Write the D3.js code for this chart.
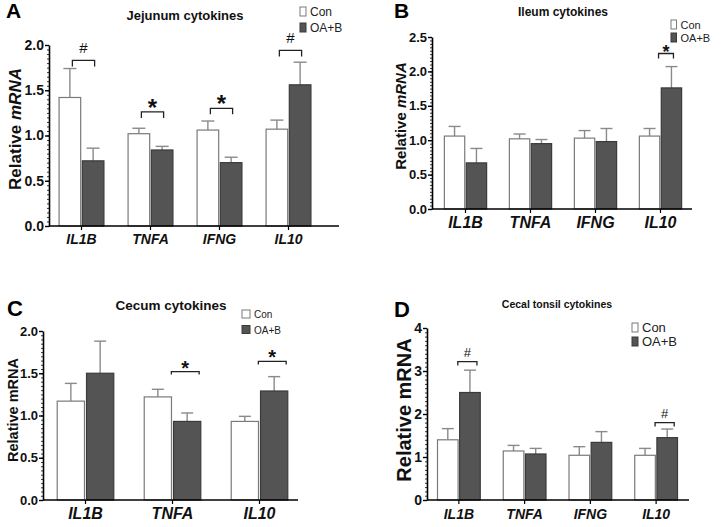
<!DOCTYPE html>
<html>
<head>
<meta charset="utf-8">
<script src="https://cdn.jsdelivr.net/npm/d3@7"></script>
<style>
  body { margin: 0; background: #fff; }
  svg { font-family: "Liberation Sans", Arial, sans-serif; }
</style>
</head>
<body>
<svg id="fig" width="728" height="527"></svg>
<script>
// A: jejunum
var genesA = ['IL1B', 'TNFA', 'IFNG', 'IL10'];
var conA = [1.42, 1.02, 1.06, 1.07];
var conErrA = [0.32, 0.06, 0.10, 0.10];
var oabA = [0.72, 0.84, 0.70, 1.56];
var oabErrA = [0.14, 0.04, 0.06, 0.25];
var sigA = [['IL1B', '#', 1.83], ['TNFA', '*', 1.26], ['IFNG', '*', 1.30], ['IL10', '#', 1.94]];
var yTicksA = [0, 0.5, 1.0, 1.5, 2.0];

// B: ileum
var genesB = ['IL1B', 'TNFA', 'IFNG', 'IL10'];
var conB = [1.06, 1.02, 1.03, 1.06];
var conErrB = [0.14, 0.07, 0.11, 0.11];
var oabB = [0.67, 0.95, 0.98, 1.76];
var oabErrB = [0.21, 0.06, 0.19, 0.31];
var sigB = [['IL10', '*', 2.26]];
var yTicksB = [0, 0.5, 1.0, 1.5, 2.0, 2.5];

// C: cecum
var genesC = ['IL1B', 'TNFA', 'IL10'];
var conC = [1.17, 1.22, 0.93];
var conErrC = [0.21, 0.09, 0.06];
var oabC = [1.50, 0.93, 1.29];
var oabErrC = [0.38, 0.10, 0.17];
var sigC = [['TNFA', '*', 1.52], ['IL10', '*', 1.64]];
var yTicksC = [0, 0.5, 1.0, 1.5, 2.0];

// D: cecal tonsil
var genesD = ['IL1B', 'TNFA', 'IFNG', 'IL10'];
var conD = [1.40, 1.14, 1.04, 1.04];
var conErrD = [0.26, 0.13, 0.20, 0.16];
var oabD = [2.50, 1.07, 1.34, 1.45];
var oabErrD = [0.52, 0.13, 0.25, 0.20];
var sigD = [['IL1B', '#', 3.22], ['IL10', '#', 1.80]];
var yTicksD = [0, 1, 2, 3, 4];

var groups = ['Con', 'OA+B'];
var fills = { 'Con': '#ffffff', 'OA+B': '#545454' };
var strokes = { 'Con': '#7a7a7a', 'OA+B': '#3a3a3a' };

var panels = [
  { letter: 'A', title: 'Jejunum cytokines', genes: genesA, con: conA, conErr: conErrA, oab: oabA, oabErr: oabErrA,
    sig: sigA, ticks: yTicksA, fmt: '.1f', italicUnit: true, minorStep: 0.05,
    L: { letterX: 6, letterY: 18, letterSize: 21, titleX: 185, titleY: 20, titleSize: 13,
         axisX: 49, axisEnd: 339, band: [47, 323], yTop: 45, yBottom: 226,
         tickSize: 14, xlabSize: 14, xlabY: 244, ylabX: 21, ylabY: 129, ylabSize: 17,
         legX: 300, legY: [7, 23], legW: 6, legH: 9, legSize: 12, legTextDy: 9,
         brOff: [2.5, 1.5], brTick: 6, starSize: 24, starDy: 4, hashSize: 15, hashDy: -7, capW: 6.5 } },
  { letter: 'B', title: 'Ileum cytokines', genes: genesB, con: conB, conErr: conErrB, oab: oabB, oabErr: oabErrB,
    sig: sigB, ticks: yTicksB, fmt: '.1f', italicUnit: true, minorStep: 0.05,
    L: { letterX: 394, letterY: 18, letterSize: 21, titleX: 563, titleY: 16, titleSize: 12,
         axisX: 432, axisEnd: 692, band: [433, 693], yTop: 37, yBottom: 209,
         tickSize: 13, xlabSize: 16, xlabY: 228, ylabX: 406, ylabY: 116, ylabSize: 15,
         legX: 671, legY: [20, 33], legW: 5.5, legH: 9, legSize: 11, legTextDy: 8.5,
         brOff: [9, 2], brTick: 5, starSize: 18, starDy: 4, hashSize: 14, hashDy: -6, capW: 6 } },
  { letter: 'C', title: 'Cecum cytokines', genes: genesC, con: conC, conErr: conErrC, oab: oabC, oabErr: oabErrC,
    sig: sigC, ticks: yTicksC, fmt: '.1f', italicUnit: false, minorStep: 0.05,
    L: { letterX: 7, letterY: 316, letterSize: 22, titleX: 171, titleY: 310, titleSize: 13.5,
         axisX: 43, axisEnd: 298, band: [42, 303], yTop: 331, yBottom: 500,
         tickSize: 13, xlabSize: 16, xlabY: 519, ylabX: 18, ylabY: 410, ylabSize: 14.5,
         legX: 242, legY: [310, 325.5], legW: 8, legH: 8, legSize: 10, legTextDy: 8,
         brOff: [13.5, 12], brTick: 3, starSize: 20, starDy: 3, hashSize: 14, hashDy: -6, capW: 6 } },
  { letter: 'D', title: 'Cecal tonsil cytokines', genes: genesD, con: conD, conErr: conErrD, oab: oabD, oabErr: oabErrD,
    sig: sigD, ticks: yTicksD, fmt: 'd', italicUnit: false, minorStep: 0.1,
    L: { letterX: 394, letterY: 317, letterSize: 22, titleX: 557, titleY: 308, titleSize: 10.5,
         axisX: 427, axisEnd: 689, band: [426, 689], yTop: 328, yBottom: 500,
         tickSize: 14, xlabSize: 14, xlabY: 519, ylabX: 411, ylabY: 410, ylabSize: 20,
         legX: 632, legY: [323, 337], legW: 6, legH: 9, legSize: 13, legTextDy: 8.5,
         brOff: [10, 7], brTick: 4, starSize: 20, starDy: 3, hashSize: 13, hashDy: -5, capW: 6 } }
];

var svg = d3.select('#fig');
panels.forEach(drawPanel);

function drawPanel(p) {
  var L = p.L;
  var g = svg.append('g');
  var yMax = p.ticks[p.ticks.length - 1];

  var x = d3.scaleBand().domain(p.genes).range(L.band).paddingInner(0.35).paddingOuter(0.175);
  var xs = d3.scaleBand().domain(groups).range([0, x.bandwidth()]).paddingInner(0.07);
  var y = d3.scaleLinear().domain([0, yMax]).range([L.yBottom, L.yTop]);

  var rows = p.genes.map(function(gene, i) {
    return [
      { gene: gene, grp: 'Con', v: p.con[i], e: p.conErr[i] },
      { gene: gene, grp: 'OA+B', v: p.oab[i], e: p.oabErr[i] }
    ];
  });
  var bars = [].concat.apply([], rows);

  // error bars (upper only), drawn behind bars
  var eb = g.append('g').attr('stroke', '#8a8a8a').attr('stroke-width', 1.4);
  bars.forEach(function(d) {
    var cx = x(d.gene) + xs(d.grp) + xs.bandwidth() / 2;
    eb.append('line').attr('x1', cx).attr('x2', cx).attr('y1', y(d.v)).attr('y2', y(d.v + d.e));
    eb.append('line').attr('x1', cx - L.capW).attr('x2', cx + L.capW).attr('y1', y(d.v + d.e)).attr('y2', y(d.v + d.e));
  });

  g.append('g').selectAll('rect').data(bars).enter().append('rect')
    .attr('x', function(d) { return x(d.gene) + xs(d.grp); })
    .attr('y', function(d) { return y(d.v); })
    .attr('width', xs.bandwidth())
    .attr('height', function(d) { return y(0) - y(d.v); })
    .attr('fill', function(d) { return fills[d.grp]; })
    .attr('stroke', function(d) { return strokes[d.grp]; })
    .attr('stroke-width', 1.2);

  // y axis, minor ticks then major
  var minor = d3.range(0, yMax + 1e-9, p.minorStep);
  g.append('g').attr('transform', 'translate(' + L.axisX + ',0)')
    .call(d3.axisLeft(y).tickValues(minor).tickSize(2).tickFormat(''))
    .call(function(s) { s.select('.domain').remove(); s.selectAll('line').attr('stroke-width', 0.8); });

  var ya = g.append('g').attr('transform', 'translate(' + L.axisX + ',0)')
    .call(d3.axisLeft(y).tickValues(p.ticks).tickSize(4).tickSizeOuter(0).tickFormat(d3.format(p.fmt)));
  ya.select('.domain').attr('stroke-width', 1.6);
  ya.selectAll('line').attr('stroke-width', 1.4);
  ya.selectAll('text').attr('font-size', L.tickSize).attr('font-weight', 'bold').attr('fill', '#111').attr('x', -5);

  // x axis
  var xa = g.append('g').attr('transform', 'translate(0,' + L.yBottom + ')')
    .call(d3.axisBottom(x).tickSize(4).tickSizeOuter(0));
  xa.select('.domain').attr('d', 'M' + L.axisX + ',0H' + L.axisEnd).attr('stroke-width', 1.6);
  xa.selectAll('line').attr('stroke-width', 1.2);
  xa.selectAll('text').attr('font-size', L.xlabSize).attr('font-weight', 'bold').attr('font-style', 'italic')
    .attr('fill', '#111').attr('dy', null).attr('y', L.xlabY - L.yBottom);

  // y label
  var yl = g.append('text')
    .attr('transform', 'translate(' + L.ylabX + ',' + L.ylabY + ') rotate(-90)')
    .attr('text-anchor', 'middle').attr('font-size', L.ylabSize).attr('font-weight', 'bold').attr('fill', '#111');
  yl.append('tspan').text('Relative ');
  yl.append('tspan').attr('font-style', p.italicUnit ? 'italic' : 'normal').text('mRNA');

  // title and letter
  g.append('text').attr('x', L.titleX).attr('y', L.titleY).attr('text-anchor', 'middle')
    .attr('font-size', L.titleSize).attr('font-weight', 'bold').attr('fill', '#111').text(p.title);
  g.append('text').attr('x', L.letterX).attr('y', L.letterY)
    .attr('font-size', L.letterSize).attr('font-weight', 'bold').attr('fill', '#000').text(p.letter);

  // legend
  groups.forEach(function(grp, i) {
    g.append('rect').attr('x', L.legX).attr('y', L.legY[i]).attr('width', L.legW).attr('height', L.legH)
      .attr('fill', fills[grp]).attr('stroke', strokes[grp]).attr('stroke-width', 1);
    g.append('text').attr('x', L.legX + L.legW + 4).attr('y', L.legY[i] + L.legTextDy)
      .attr('font-size', L.legSize).attr('fill', '#222').text(grp);
  });

  // significance brackets
  p.sig.forEach(function(s) {
    var gene = s[0], mark = s[1], by = y(s[2]);
    var x0 = x(gene) + xs('Con') + xs.bandwidth() / 2 + L.brOff[0];
    var x1 = x(gene) + xs('OA+B') + xs.bandwidth() / 2 + L.brOff[1];
    g.append('path')
      .attr('d', 'M' + x0 + ',' + (by + L.brTick) + 'V' + by + 'H' + x1 + 'V' + (by + L.brTick))
      .attr('fill', 'none').attr('stroke', '#222').attr('stroke-width', 1.3);
    var star = mark === '*';
    g.append('text').attr('x', (x0 + x1) / 2).attr('y', by + (star ? L.starDy : L.hashDy))
      .attr('text-anchor', 'middle').attr('font-size', star ? L.starSize : L.hashSize)
      .attr('font-weight', star ? 'bold' : 'normal').attr('fill', '#111').text(mark);
  });
}
</script>
</body>
</html>
